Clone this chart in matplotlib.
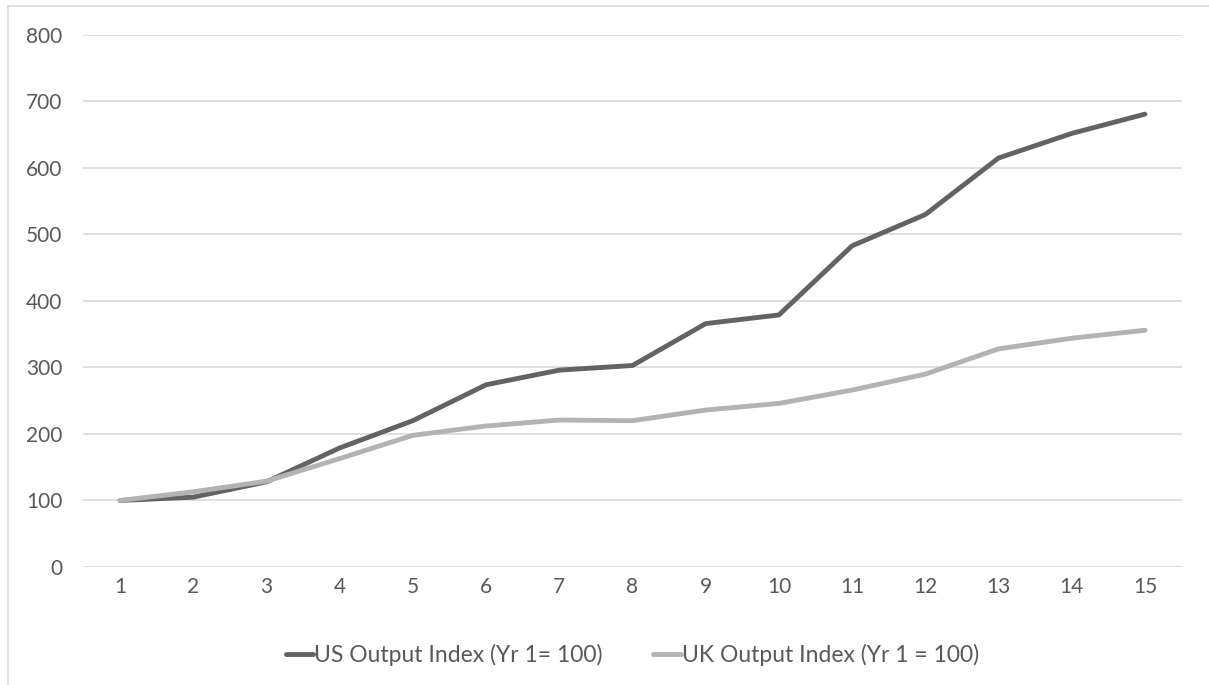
import matplotlib
matplotlib.use("Agg")
import matplotlib.pyplot as plt
from matplotlib.lines import Line2D

years = list(range(1, 16))
us_index = [100, 105, 128, 179, 220, 274, 296, 303, 366, 379, 483, 530, 615, 652, 681]
uk_index = [100, 113, 129, 163, 198, 212, 221, 220, 236, 246, 266, 290, 328, 344, 356]
y_ticks = [0, 100, 200, 300, 400, 500, 600, 700, 800]

plt.rcParams['font.family'] = ['Lato', 'DejaVu Sans']

fig = plt.figure(figsize=(12.09, 6.85), dpi=100)
ax = fig.add_axes([0.069, 0.1723, 0.9083, 0.7766])

ax.plot(years, us_index, color='#636363', lw=3.5, solid_capstyle='round',
        solid_joinstyle='round', label='US Output Index (Yr 1= 100)')
ax.plot(years, uk_index, color='#b3b3b3', lw=3.5, solid_capstyle='round',
        solid_joinstyle='round', label='UK Output Index (Yr 1 = 100)')

ax.set_xlim(0.5, 15.5)
ax.set_ylim(0, 800)
ax.set_xticks(years)
ax.set_yticks(y_ticks)
ax.grid(axis='y', color='#d9d9d9', lw=1.2)
ax.set_axisbelow(True)
for s in ax.spines.values():
    s.set_visible(False)
ax.tick_params(length=0, labelsize=15, labelcolor='#595959')
ax.tick_params(axis='y', pad=15)
ax.tick_params(axis='x', pad=7)

ax.legend(loc='center', bbox_to_anchor=(0.5, -0.165), ncol=2, frameon=False,
          fontsize=16.5, labelcolor='#595959', handlelength=1.2,
          handletextpad=0.05, columnspacing=2.2)

# outer chart border
fig.add_artist(Line2D([8/1209, 1.0], [1-6/685, 1-6/685], color='#d9d9d9', lw=1.2))
fig.add_artist(Line2D([8/1209, 8/1209], [0, 1-6/685], color='#d9d9d9', lw=1.2))

fig.savefig('out.png', dpi=100)
